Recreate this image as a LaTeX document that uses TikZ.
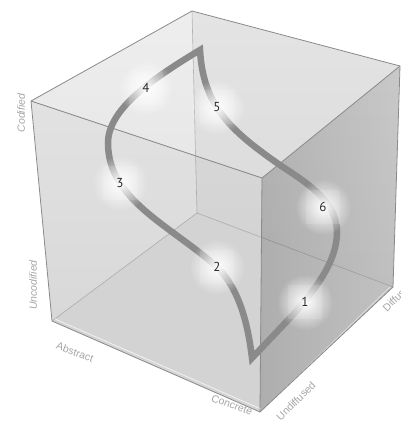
\documentclass[tikz,border=0pt]{standalone}
\usepackage{fontspec}
\setmainfont{Liberation Sans}
\newfontfamily\numfont{PT Sans}
\usetikzlibrary{fadings}
\tikzfading[name=glowfade, inner color=transparent!0, outer color=transparent!100]
\definecolor{edgecol}{RGB}{138,138,138}
\definecolor{hiddencol}{RGB}{178,178,178}
\definecolor{curvecol}{RGB}{138,138,138}
\definecolor{axiscol}{RGB}{165,165,165}
\definecolor{numcol}{RGB}{40,40,40}
\definecolor{blwtop}{RGB}{238,238,238}
\definecolor{blwbot}{RGB}{224,224,224}
\definecolor{brwtop}{RGB}{228,228,228}
\definecolor{brwbot}{RGB}{216,216,216}
\definecolor{floorcol}{RGB}{218,218,218}
\tikzset{
  edge/.style={draw=edgecol, line width=0.8pt, line join=round},
  hidden/.style={draw=hiddencol, line width=0.6pt},
  curve/.style={draw=curvecol, line width=6.5pt, line join=miter},
  axislabel/.style={text=axiscol, font=\fontsize{10.5}{12}\selectfont, inner sep=0pt},
  numlabel/.style={text=numcol, font=\numfont\fontsize{13}{15}\selectfont, inner sep=0pt},
  glowsq/.style={fill=white, opacity=0.12},
  glow/.style={fill=white, path fading=glowfade}
}
\begin{document}
\begin{tikzpicture}[x=1pt,y=-1pt]
\useasboundingbox (0,0) rectangle (401,429);
% cube vertices
\coordinate (Lt) at (31,101);
\coordinate (Tb) at (192,11);
\coordinate (Rt) at (400,66);
\coordinate (Ft) at (262,178);
\coordinate (Lb) at (52,321);
\coordinate (Bb) at (197,213);
\coordinate (Rb) at (393,287);
\coordinate (Fb) at (260,412);
% back walls and floor
\shade[top color=blwtop, bottom color=blwbot] (Lt) -- (Tb) -- (Bb) -- (Lb) -- cycle;
\shade[top color=brwtop, bottom color=brwbot] (Tb) -- (Rt) -- (Rb) -- (Bb) -- cycle;
\fill[floorcol] (Lb) -- (Bb) -- (Rb) -- (Fb) -- cycle;
% hidden edges
\draw[hidden] (Tb) -- (Bb) -- (Lb);
\draw[hidden] (Bb) -- (Rb);
% front faces (translucent)
\fill[black, opacity=0.03] (Lt) -- (Ft) -- (Fb) -- (Lb) -- cycle;
\shade[left color=black, right color=black!60, opacity=0.2] (Ft) -- (Rt) -- (Rb) -- (Fb) -- cycle;
% glass highlights
\draw[white, line width=0.8pt, opacity=0.7] ([shift={(3,-2)}]Lb) -- ([shift={(1,-3)}]Fb);
\draw[white, line width=0.8pt, opacity=0.5] ([shift={(3,-2)}]Fb) -- ([shift={(-3,0)}]Rb);
% visible edges
\draw[edge] (Lt) -- (Tb) -- (Rt) -- (Rb) -- (Fb) -- (Lb) -- cycle;
\draw[edge] (Lt) -- (Ft) -- (Rt);
\draw[edge] (Ft) -- (Fb);
% the curve
\coordinate (B) at (252,358);
\coordinate (T) at (200,50);
\coordinate (p1) at (305,302);
\coordinate (p2) at (217,267);
\coordinate (p3) at (120,183);
\coordinate (p4) at (146,88);
\coordinate (p5) at (217,107);
\coordinate (p6) at (323,207);
\draw[curve] (B) .. controls (248,325) and (240,290) .. (p2)
  .. controls (170,225) and (108,200) .. (108,143)
  .. controls (108,110) and (150,80) .. (T)
  .. controls (203,105) and (230,130) .. (277,163)
  .. controls (305,182) and (337,200) .. (337,232)
  .. controls (337,262) and (315,290) .. (290,318) -- cycle;
% glows and numbers
\foreach \p/\t in {p1/1,p2/2,p3/3,p4/4,p5/5,p6/6}{
  \fill[glowsq] ([shift={(-17,-17)}]\p) rectangle ([shift={(17,17)}]\p);
  \fill[glow] (\p) circle (28);
  \node[numlabel] (n\t) at (\p) {\t};
}
% axis labels
\node[axislabel, rotate=90] (codified) at (21,113) {\itshape Codified};
\node[axislabel, rotate=90] (uncodified) at (33,285) {\itshape Uncodified};
\node[axislabel, rotate=-20] (abstract) at (75,352) {Abstract};
\node[axislabel, rotate=-20] (concrete) at (232,405) {Concrete};
\node[axislabel, rotate=45] (undiffused) at (296,401) {Undiffused};
\node[axislabel, rotate=45] (diffused) at (398,296) {Diffused};
\end{tikzpicture}
\end{document}
